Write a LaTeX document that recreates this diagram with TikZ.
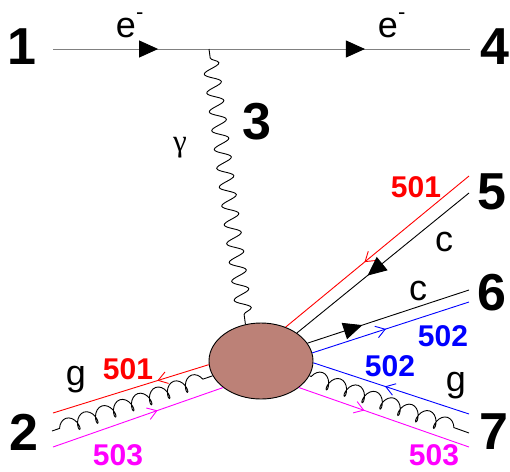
\documentclass[tikz,border=0pt]{standalone}
\usepackage{fontspec}
\setmainfont{Liberation Sans}
\newfontfamily\greekfont{Liberation Serif}
\usetikzlibrary{arrows.meta,decorations.pathmorphing,decorations.markings,shapes.geometric}
\definecolor{blobcol}{RGB}{188,129,119}
\definecolor{mag}{RGB}{255,0,255}
\definecolor{eline}{RGB}{128,128,128}
\begin{document}
\begin{tikzpicture}[x=1pt,y=-1pt,
  num/.style={font=\fontsize{52}{52}\selectfont\bfseries, inner sep=0},
  col/.style={font=\fontsize{30}{30}\selectfont\bfseries, inner sep=0},
  lbl/.style={font=\fontsize{36}{36}\selectfont, inner sep=0},
  thin line/.style={line width=0.9pt},
  ftip/.style={postaction={decorate,decoration={markings,
      mark=at position #1 with {\arrow[black]{Triangle[length=19pt,width=17pt]}}}}},
  otip/.style={postaction={decorate,decoration={markings,
      mark=at position #1 with {\arrow[line width=0.9pt]{Straight Barb[length=9pt,width=12pt]}}}}},
  photon/.style={line width=0.9pt, decorate, decoration={snake, amplitude=8pt,
      segment length=19pt, pre length=9pt, post length=4pt}},
  gluon/.style={line width=0.9pt, decorate, decoration={coil, amplitude=7.5pt,
      segment length=19pt, aspect=0.6, pre length=8pt, post length=2pt}},
  gluonr/.style={line width=0.9pt, decorate, decoration={coil, amplitude=7.5pt,
      segment length=19pt, aspect=0.6, pre length=2pt, post length=8pt}},
]
\useasboundingbox (0,0) rectangle (510,471);

% blob
\node[ellipse, draw, fill=blobcol, line width=0.9pt, minimum width=104pt,
      minimum height=76pt, inner sep=0] (blob) at (261,361) {};

% end points
\coordinate (p1) at (53,49);
\coordinate (p4) at (470,49);
\coordinate (v) at (209,49);
\coordinate (r5) at (469,176);
\coordinate (c5) at (469,193);
\coordinate (c6) at (469,290);
\coordinate (b6) at (469,302);
\coordinate (b7) at (469,414);
\coordinate (g7) at (469,433);
\coordinate (m7) at (469,447);
\coordinate (r2) at (53,413);
\coordinate (g2) at (52,431);
\coordinate (m2) at (53,447);

% electron line
\draw[thin line, eline, ftip=0.252, ftip=0.748] (p1) -- (p4);
% photon
\draw[photon] (v) -- (blob.113);

% right side
\draw[thin line, red, otip=0.57] (r5) -- (blob.54);
\draw[thin line, black, ftip=0.59] (c5) -- (blob.38);
\draw[thin line, black, ftip=0.34] (blob.21) -- (c6);
\draw[thin line, blue, otip=0.47] (blob.9) -- (b6);
\draw[thin line, blue, otip=0.54] (b7) -- (blob.-2);
\draw[gluonr] (blob.-17) -- (g7);
\draw[thin line, mag, otip=0.385] (blob.-35) -- (m7);

% left side
\draw[thin line, red, otip=0.33] (blob.184) -- (r2);
\draw[gluon] (g2) -- (blob.197);
\draw[thin line, mag, otip=0.615] (m2) -- (blob.215);

% labels
\node[num] (n1) at (22,47) {1};
\node[num] (n4) at (495,47) {4};
\node[num] (n3) at (257,122) {3};
\node[num] (n5) at (492,192) {5};
\node[num] (n6) at (492,293) {6};
\node[num] (n7) at (494,432) {7};
\node[num] (n2) at (24,432) {2};

\node[lbl] (e1) at (126,28) {e\smash{\rlap{\raisebox{0.5em}{\fontsize{22}{22}\selectfont -}}}};
\node[lbl] (e2) at (388,28) {e\smash{\rlap{\raisebox{0.5em}{\fontsize{22}{22}\selectfont -}}}};
\node[inner sep=0, font=\fontsize{31}{31}\selectfont\greekfont] (gam) at (180,148) {γ};
\node[lbl] (cq5) at (444,242) {c};
\node[lbl] (cq6) at (418,291) {c};
\node[lbl] (gr) at (456,386) {g};
\node[lbl] (gl) at (76,380) {g};

\node[col, red] (l501a) at (128,369) {501};
\node[col, mag] (l503a) at (118,455) {503};
\node[col, red] (l501b) at (416,187) {501};
\node[col, blue] (l502a) at (443,336) {502};
\node[col, blue] (l502b) at (390,366) {502};
\node[col, mag] (l503b) at (434,455) {503};
\end{tikzpicture}
\end{document}
